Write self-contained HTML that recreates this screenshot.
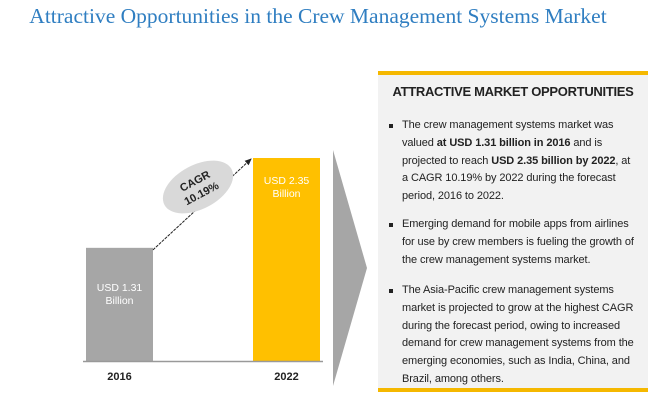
<!DOCTYPE html>
<html><head><meta charset="utf-8"><style>
body{margin:0;width:650px;height:405px;background:#fff;position:relative;overflow:hidden;font-family:"Liberation Sans",sans-serif}
#title{position:absolute;left:0;top:4px;width:636px;text-align:center;font-family:"Liberation Serif",serif;font-size:21.5px;color:#2f7ec1;white-space:nowrap}
#panel{position:absolute;left:378px;top:71px;width:270px;height:313px;background:#f2f2f2;border-top:4px solid #f5b800;border-bottom:4px solid #f5b800}
#panel h3{margin:0;position:absolute;top:9px;width:100%;text-align:center;font-size:13px;font-weight:bold;color:#222;letter-spacing:-0.3px}
.p{position:absolute;left:24px;width:245px;font-size:11px;line-height:17.8px;color:#222;white-space:nowrap;letter-spacing:-0.1px}
.b{position:absolute;left:-13px;top:7px;width:4px;height:4px;background:#222}
</style></head><body>
<div id="title">Attractive Opportunities in the Crew Management Systems Market</div>
<svg id="chart" width="650" height="405" style="position:absolute;left:0;top:0">
<polygon points="333,150 367,268 333,386" fill="#a6a6a6"/>
</svg>
<div id="panel">
<h3>ATTRACTIVE MARKET OPPORTUNITIES</h3>
<div class="p" style="top:42px"><span class="b"></span>The crew management systems market was<br>valued <b>at USD 1.31 billion in 2016</b> and is<br>projected to reach <b>USD 2.35 billion by 2022</b>, at<br>a CAGR 10.19% by 2022 during the forecast<br>period, 2016 to 2022.</div>
<div class="p" style="top:141px"><span class="b"></span>Emerging demand for mobile apps from airlines<br>for use by crew members is fueling the growth of<br>the crew management systems market.</div>
<div class="p" style="top:207px"><span class="b"></span>The Asia-Pacific crew management systems<br>market  is projected to grow at the highest CAGR<br>during the forecast period, owing to increased<br>demand for crew management systems from the<br>emerging economies, such as India, China, and<br>Brazil, among others.</div>
</div>
<script>
const years=["2016","2022"];
const values=[1.31,2.35];
const valueLabels=["USD 1.31","USD 2.35"];
const colors=["#a6a6a6","#ffc000"];
const NS="http://www.w3.org/2000/svg";
const svg=document.getElementById('chart');
const base=361, scale=203/2.35;
const xPos=i=>86+i*167;
const y=v=>base-v*scale;
function mk(t,a){const e=document.createElementNS(NS,t);for(const k in a)e.setAttribute(k,a[k]);svg.appendChild(e);return e;}
values.forEach((v,i)=>{
 const r=mk('rect',{x:xPos(i),y:y(v),width:67,height:v*scale,fill:colors[i]});
 
 
 const t1=mk('text',{x:xPos(i)+33.5,y:y(v)+(i?26:43),'text-anchor':'middle','font-size':'10.5',fill:'#fff'});
 t1.textContent=valueLabels[i];
 
 
 const t2=mk('text',{x:xPos(i)+33.5,y:y(v)+(i?39:56),'text-anchor':'middle','font-size':'10.5',fill:'#fff'});
 t2.textContent='Billion';
 
 
 const t3=mk('text',{x:xPos(i)+33.5,y:380,'text-anchor':'middle','font-size':'11','font-weight':'bold',fill:'#222'});
 t3.textContent=years[i];
 
 
});
const ax=mk('line',{x1:83,y1:base+0.5,x2:323,y2:base+0.5,stroke:'#999','stroke-width':1.5});


const m=mk('defs',{});m.innerHTML='<marker id="ah" markerWidth="8" markerHeight="8" refX="6" refY="3" orient="auto"><path d="M0,0 L7,3 L0,6z" fill="#222"/></marker>';
const ar=mk('line',{x1:xPos(0)+67,y1:y(values[0])+2,x2:xPos(1)-2,y2:y(values[1])+1,stroke:'#222','stroke-width':1,'stroke-dasharray':'3,1','marker-end':'url(#ah)'});


const g=mk('g',{transform:'translate(198,187) rotate(-28)'});


g.innerHTML='<ellipse rx="38" ry="22" fill="#d9d9d9"/><text y="-3" text-anchor="middle" font-size="11" font-weight="bold" fill="#222">CAGR</text><text y="11" text-anchor="middle" font-size="11" font-weight="bold" fill="#222">10.19%</text>';
</script>
</body></html>
